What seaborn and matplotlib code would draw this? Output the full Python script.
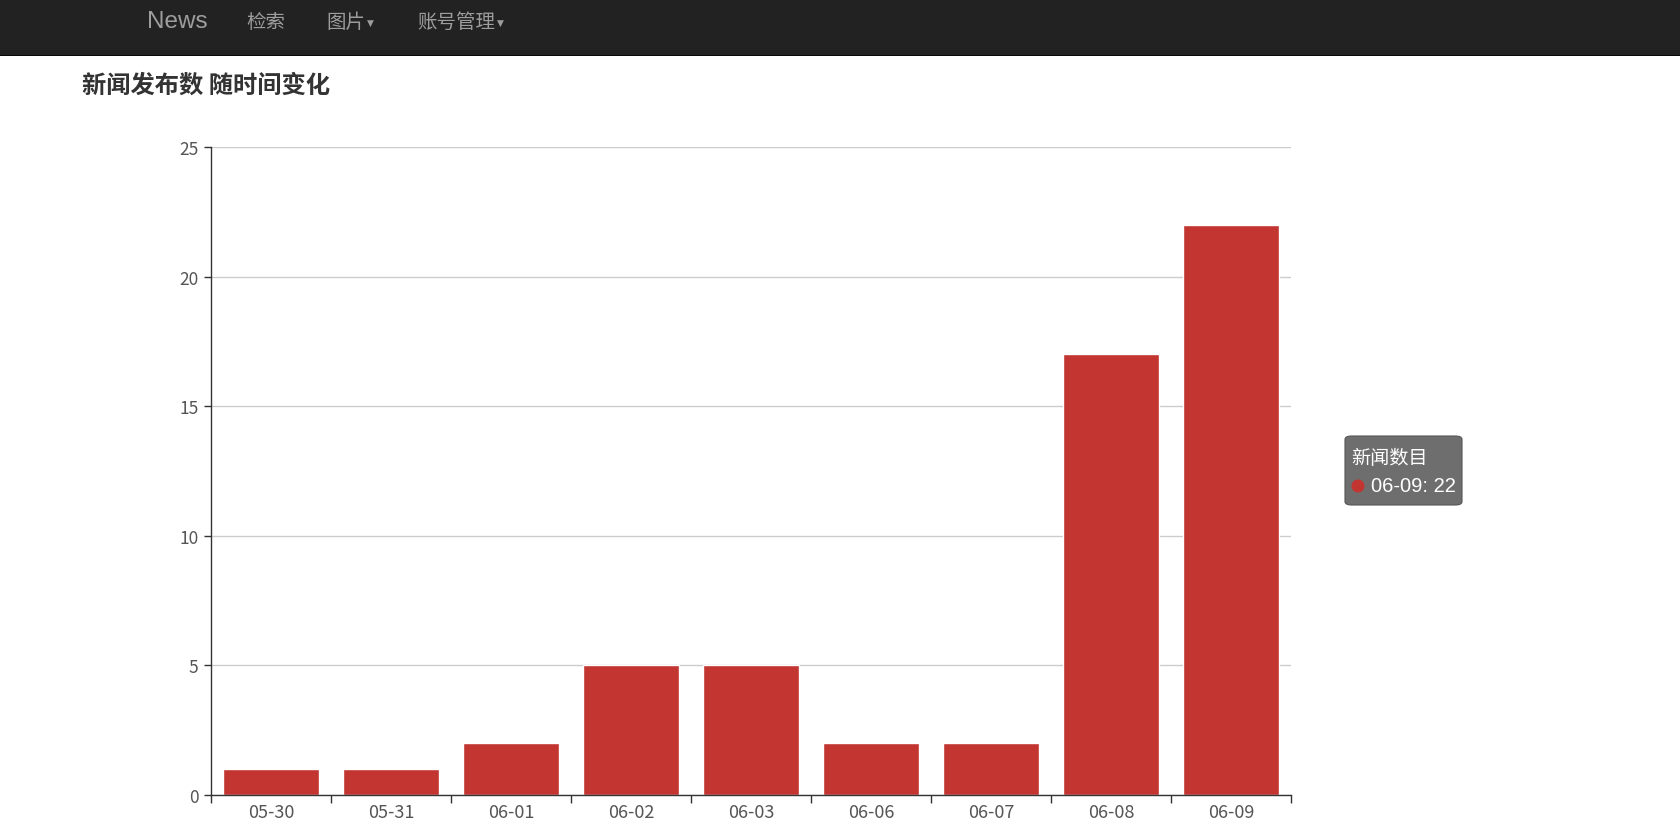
import numpy as np
import pandas as pd
import matplotlib
matplotlib.use("Agg")
import matplotlib.pyplot as plt
from matplotlib.patches import Rectangle, FancyBboxPatch, Ellipse
import seaborn as sns

dates = ['05-30', '05-31', '06-01', '06-02', '06-03', '06-06', '06-07', '06-08', '06-09']
counts = [1, 1, 2, 5, 5, 2, 2, 17, 22]
series_name = '新闻数目'
title = '新闻发布数 随时间变化'
nav_items = ['检索', '图片', '账号管理']
nav_dropdown = [False, True, True]

sns.set_style('white')
plt.rcParams['font.family'] = ['Noto Sans CJK SC', 'DejaVu Sans']

bar_color = '#c23531'
df = pd.DataFrame({'date': dates, 'count': counts})

fig = plt.figure(figsize=(16.8, 8.37), dpi=100)
H = 837.0
W = 1680.0

# navbar
fig.patches.append(Rectangle((0, 1 - 56 / H), 1, 56 / H, transform=fig.transFigure,
                             facecolor='#222222', edgecolor='none', zorder=0))
fig.patches.append(Rectangle((0, 1 - 57 / H), 1, 1 / H, transform=fig.transFigure,
                             facecolor='#080808', edgecolor='none', zorder=0))
fig.text(147 / W, 1 - 22 / H, 'News', color='#9d9d9d', fontsize=17.5, va='center', ha='left',
         family=['Liberation Sans'])
nav_x = [246, 326, 417]
renderer = fig.canvas.get_renderer()
for x, item, dd in zip(nav_x, nav_items, nav_dropdown):
    t = fig.text(x / W, 1 - 22 / H, item, color='#9d9d9d', fontsize=14, va='center', ha='left')
    if dd:
        bb = t.get_window_extent(renderer=renderer)
        fig.text((bb.x1 + 2) / W, 1 - 23 / H, '▼', color='#9d9d9d', fontsize=6.5,
                 va='center', ha='left', family=['DejaVu Sans'])

fig.text(82 / W, 1 - 86 / H, title, color='#333333', fontsize=17.5, fontweight='bold',
         va='center', ha='left')

ax = fig.add_axes([211 / W, 1 - 796 / H, (1291 - 211) / W, (796 - 148) / H])
sns.barplot(data=df, x='date', y='count', color=bar_color, saturation=1, width=0.8, ax=ax)

ax.set_xlim(-0.5, len(dates) - 0.5)
ax.set_ylim(0, 25)
ax.set_yticks(np.arange(0, 26, 5))
ax.yaxis.grid(True, color='#cccccc', linewidth=1)
ax.set_axisbelow(True)
ax.set_xlabel('')
ax.set_ylabel('')

# x ticks at category boundaries, labels at centres
ax.set_xticks(np.arange(-0.5, len(dates)), labels=[''] * (len(dates) + 1))
ax.set_xticks(np.arange(len(dates)), labels=dates, minor=True)
ax.tick_params(axis='x', which='major', bottom=True, length=6, width=1, color='#333333',
               direction='out')
ax.tick_params(axis='x', which='minor', bottom=True, length=0, pad=6, labelsize=13,
               labelcolor='#555555')
ax.tick_params(axis='y', left=True, length=5, width=1, color='#333333', direction='out', pad=4,
               labelsize=12.5, labelcolor='#555555')

for s in ['top', 'right']:
    ax.spines[s].set_visible(False)
for s in ['left', 'bottom']:
    ax.spines[s].set_color('#333333')
    ax.spines[s].set_linewidth(1)

# tooltip
tx0, ty0, tw, th = 1345, 437, 117, 69
fig.patches.append(FancyBboxPatch((tx0 / W, 1 - (ty0 + th) / H), tw / W, th / H,
                                  boxstyle='round,pad=0,rounding_size=0.004',
                                  transform=fig.transFigure, facecolor='#6e6e6e',
                                  edgecolor='#555555', linewidth=0.8, zorder=5))
fig.text((tx0 + 6) / W, 1 - (ty0 + 22) / H, series_name, color='white', fontsize=13.8,
         va='center', ha='left', zorder=6)
fig.patches.append(Ellipse(((tx0 + 13) / W, 1 - (ty0 + 50) / H), 13 / W, 13 / H,
                           transform=fig.transFigure, facecolor=bar_color,
                           edgecolor='none', zorder=6))
fig.text((tx0 + 26) / W, 1 - (ty0 + 50) / H, f'{dates[-1]}: {counts[-1]}', color='white',
         fontsize=14.5, va='center', ha='left', zorder=6, family=['Liberation Sans'])

fig.savefig('out.png', dpi=100)
